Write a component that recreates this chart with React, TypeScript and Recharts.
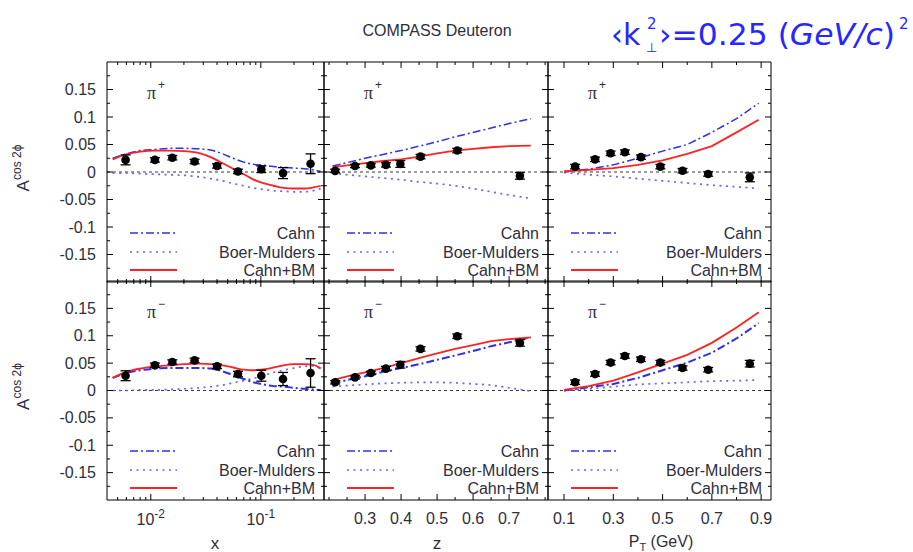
import React from 'react';
import { ComposedChart, Line, Scatter, ErrorBar, XAxis, YAxis, ReferenceLine } from 'recharts';

const W = 913;
const H = 552;
const FONT = '"Liberation Sans", Arial, Helvetica, sans-serif';
const TXT = '#2e2e3c';
const CAHN = '#2f2ff0';
const BM = '#6262ff';
const SUM = '#ff2222';

// plot frames in page pixels
const COLS = [
  { l: 107, r: 324 },
  { l: 324, r: 548 },
  { l: 548, r: 771 },
];
const ROWS = [
  { t: 62, b: 282 },
  { t: 281, b: 500 },
];

// ---- model curves ----
const xGrid = [0.0045, 0.006, 0.008, 0.011, 0.015, 0.02, 0.028, 0.035, 0.045, 0.056, 0.07, 0.085, 0.1, 0.13, 0.16, 0.2, 0.25, 0.3, 0.35];
const cahnPlusX = [0.025, 0.033, 0.039, 0.041, 0.043, 0.043, 0.042, 0.04, 0.033, 0.025, 0.018, 0.014, 0.013, 0.01, 0.0085, 0.007, 0.006, 0.004, 0.001];
const bmPlusX = [-0.002, -0.002, -0.003, -0.004, -0.005, -0.006, -0.009, -0.012, -0.016, -0.021, -0.025, -0.029, -0.031, -0.034, -0.035, -0.036, -0.036, -0.034, -0.03];
const sumPlusX = [0.023, 0.032, 0.037, 0.039, 0.039, 0.038, 0.034, 0.027, 0.016, 0.006, -0.004, -0.0135, -0.019, -0.025, -0.029, -0.03, -0.03, -0.028, -0.025];
const cahnMinusX = [0.023, 0.032, 0.037, 0.04, 0.041, 0.041, 0.041, 0.04, 0.035, 0.028, 0.021, 0.015, 0.012, 0.008, 0.007, 0.005, 0.003, 0.002, 0.001];
const bmMinusX = [0, 0, 0.001, 0.001, 0.002, 0.003, 0.005, 0.007, 0.01, 0.014, 0.018, 0.022, 0.026, 0.033, 0.037, 0.041, 0.044, 0.045, 0.04];
const sumMinusX = [0.023, 0.034, 0.04, 0.044, 0.046, 0.048, 0.049, 0.048, 0.046, 0.042, 0.038, 0.037, 0.038, 0.042, 0.046, 0.048, 0.048, 0.047, 0.04];

const zGrid = [0.21, 0.25, 0.3, 0.35, 0.4, 0.45, 0.5, 0.55, 0.6, 0.65, 0.7, 0.76];
const cahnPlusZ = [0.011, 0.017, 0.025, 0.032, 0.039, 0.047, 0.055, 0.064, 0.072, 0.08, 0.088, 0.097];
const bmPlusZ = [-0.002, -0.005, -0.008, -0.011, -0.014, -0.018, -0.021, -0.025, -0.03, -0.036, -0.042, -0.048];
const sumPlusZ = [0.009, 0.012, 0.016, 0.02, 0.023, 0.028, 0.034, 0.039, 0.042, 0.045, 0.047, 0.048];
const cahnMinusZ = [0.013, 0.019, 0.026, 0.034, 0.041, 0.048, 0.056, 0.064, 0.072, 0.081, 0.088, 0.097];
const bmMinusZ = [0.007, 0.009, 0.011, 0.013, 0.014, 0.015, 0.015, 0.014, 0.012, 0.01, 0.005, -0.001];
const sumMinusZ = [0.019, 0.026, 0.033, 0.041, 0.05, 0.059, 0.068, 0.076, 0.083, 0.09, 0.094, 0.097];

const ptGrid = [0.1, 0.2, 0.3, 0.4, 0.5, 0.6, 0.7, 0.8, 0.89];
const cahnPlusPt = [0.001, 0.005, 0.013, 0.025, 0.038, 0.05, 0.072, 0.097, 0.125];
const bmPlusPt = [-0.001, -0.005, -0.008, -0.012, -0.016, -0.02, -0.024, -0.027, -0.03];
const sumPlusPt = [0.001, 0.004, 0.007, 0.013, 0.021, 0.033, 0.047, 0.072, 0.095];
const cahnMinusPt = [0, 0.006, 0.012, 0.023, 0.037, 0.051, 0.069, 0.095, 0.123];
const bmMinusPt = [0, 0.003, 0.007, 0.011, 0.013, 0.015, 0.017, 0.018, 0.019];
const sumMinusPt = [0.001, 0.008, 0.018, 0.033, 0.049, 0.065, 0.087, 0.115, 0.143];

// ---- COMPASS data points ----
const xBins = [0.0059, 0.0109, 0.0157, 0.025, 0.04, 0.062, 0.101, 0.159, 0.283];
const zBins = [0.217, 0.272, 0.316, 0.358, 0.398, 0.454, 0.556, 0.73];
const ptBins = [0.145, 0.226, 0.289, 0.347, 0.412, 0.491, 0.581, 0.685, 0.854];

const aPlusX = [0.022, 0.022, 0.026, 0.019, 0.011, 0.001, 0.005, -0.002, 0.015];
const ePlusX = [0.009, 0.004, 0.004, 0.004, 0.004, 0.004, 0.006, 0.01, 0.018];
const aPlusZ = [0.002, 0.011, 0.012, 0.013, 0.0145, 0.028, 0.039, -0.007];
const ePlusZ = [0.003, 0.003, 0.003, 0.004, 0.006, 0.004, 0.004, 0.006];
const aPlusPt = [0.0097, 0.023, 0.034, 0.036, 0.027, 0.0097, 0.0024, -0.0036, -0.0097];
const ePlusPt = [0.004, 0.004, 0.004, 0.004, 0.004, 0.004, 0.004, 0.004, 0.008];
const aMinusX = [0.027, 0.046, 0.052, 0.055, 0.044, 0.03, 0.027, 0.021, 0.032];
const eMinusX = [0.009, 0.004, 0.004, 0.004, 0.004, 0.005, 0.01, 0.012, 0.026];
const aMinusZ = [0.015, 0.024, 0.032, 0.04, 0.047, 0.076, 0.099, 0.087];
const eMinusZ = [0.003, 0.003, 0.003, 0.004, 0.006, 0.004, 0.004, 0.006];
const aMinusPt = [0.015, 0.03, 0.051, 0.063, 0.057, 0.051, 0.041, 0.038, 0.049];
const eMinusPt = [0.004, 0.004, 0.004, 0.004, 0.004, 0.004, 0.004, 0.004, 0.006];

// ---- ticks ----
const yTicks = [-0.175, -0.15, -0.125, -0.1, -0.075, -0.05, -0.025, 0, 0.025, 0.05, 0.075, 0.1, 0.125, 0.15, 0.175];
const yLabels: Record<string, string> = { '0.15': '0.15', '0.1': '0.1', '0.05': '0.05', '0': '0', '-0.05': '-0.05', '-0.1': '-0.1', '-0.15': '-0.15' };
const xTicks = [0.005, 0.006, 0.007, 0.008, 0.009, 0.01, 0.02, 0.03, 0.04, 0.05, 0.06, 0.07, 0.08, 0.09, 0.1, 0.2, 0.3];
const xLabels: Record<string, string> = { '0.01': '-2', '0.1': '-1' };
const zTicks = [0.2, 0.25, 0.3, 0.35, 0.4, 0.45, 0.5, 0.55, 0.6, 0.65, 0.7, 0.75, 0.8];
const zLabels: Record<string, string> = { '0.3': '0.3', '0.4': '0.4', '0.5': '0.5', '0.6': '0.6', '0.7': '0.7' };
const ptTicks = [0.1, 0.2, 0.3, 0.4, 0.5, 0.6, 0.7, 0.8, 0.9];
const ptLabels: Record<string, string> = { '0.1': '0.1', '0.3': '0.3', '0.5': '0.5', '0.7': '0.7', '0.9': '0.9' };

const AXES: Record<string, any> = {
  x: { scale: 'log', domain: [0.004, 0.375], ticks: xTicks, labels: xLabels, log: true },
  z: { scale: 'linear', domain: [0.186, 0.808], ticks: zTicks, labels: zLabels, log: false },
  pt: { scale: 'linear', domain: [0.035, 0.94], ticks: ptTicks, labels: ptLabels, log: false },
};

const curve = (xs: number[], ys: number[]) => xs.map((x, i) => ({ x, y: ys[i] }));
const pts = (xs: number[], ys: number[], es: number[]) => xs.map((x, i) => ({ x, y: ys[i], e: es[i] }));

const PANELS = [
  { row: 0, col: 0, kind: 'x', sign: '+', grid: xGrid, cahn: cahnPlusX, bm: bmPlusX, sum: sumPlusX, bins: xBins, vals: aPlusX, errs: ePlusX },
  { row: 0, col: 1, kind: 'z', sign: '+', grid: zGrid, cahn: cahnPlusZ, bm: bmPlusZ, sum: sumPlusZ, bins: zBins, vals: aPlusZ, errs: ePlusZ },
  { row: 0, col: 2, kind: 'pt', sign: '+', grid: ptGrid, cahn: cahnPlusPt, bm: bmPlusPt, sum: sumPlusPt, bins: ptBins, vals: aPlusPt, errs: ePlusPt },
  { row: 1, col: 0, kind: 'x', sign: '−', grid: xGrid, cahn: cahnMinusX, bm: bmMinusX, sum: sumMinusX, bins: xBins, vals: aMinusX, errs: eMinusX },
  { row: 1, col: 1, kind: 'z', sign: '−', grid: zGrid, cahn: cahnMinusZ, bm: bmMinusZ, sum: sumMinusZ, bins: zBins, vals: aMinusZ, errs: eMinusZ },
  { row: 1, col: 2, kind: 'pt', sign: '−', grid: ptGrid, cahn: cahnMinusPt, bm: bmMinusPt, sum: sumMinusPt, bins: ptBins, vals: aMinusPt, errs: eMinusPt },
];

const CAHN_DASH = '8 3 2 3';
const BM_DASH = '2 4.5';

function xTick(t: any, ax: any, side: 'top' | 'bottom', showLabel: boolean) {
  const v = t.payload.value;
  const lab = ax.labels[String(v)];
  const len = lab !== undefined ? 6 : 3;
  const dir = side === 'bottom' ? -1 : 1;
  return (
    <g>
      <line x1={t.x} x2={t.x} y1={t.y} y2={t.y + dir * len} stroke="#000" strokeWidth={1} />
      {showLabel && lab !== undefined && (ax.log ? (
        <text x={t.x} y={t.y + 25} textAnchor="middle" fontSize={16} fill={TXT} fontFamily={FONT}>
          10<tspan dy={-7} fontSize={12}>{lab}</tspan>
        </text>
      ) : (
        <text x={t.x} y={t.y + 24} textAnchor="middle" fontSize={16} fill={TXT} fontFamily={FONT}>{lab}</text>
      ))}
    </g>
  );
}

function yTick(t: any, side: 'left' | 'right', showLabel: boolean) {
  const v = t.payload.value;
  const lab = yLabels[String(v)];
  const len = lab !== undefined ? 6 : 3;
  const dir = side === 'left' ? 1 : -1;
  return (
    <g>
      <line x1={t.x} x2={t.x + dir * len} y1={t.y} y2={t.y} stroke="#000" strokeWidth={1} />
      {showLabel && lab !== undefined && (
        <text x={t.x - 11} y={t.y + 5.5} textAnchor="end" fontSize={16} fill={TXT} fontFamily={FONT}>{lab}</text>
      )}
    </g>
  );
}

function Panel({ p }: { p: any }) {
  const col = COLS[p.col];
  const row = ROWS[p.row];
  const ax = AXES[p.kind];
  const showX = p.row === 1;
  const showY = p.col === 0;
  const lineType = p.kind === 'x' ? 'monotone' : 'linear';
  return (
    <div style={{ position: 'absolute', left: 0, top: 0 }}>
      <ComposedChart width={W} height={H} margin={{ top: row.t - 1, left: col.l - 1, right: W - col.r - 1, bottom: H - row.b - 1 }}>
        <XAxis xAxisId="b" dataKey="x" type="number" scale={ax.scale} domain={ax.domain} allowDataOverflow ticks={ax.ticks} interval={0}
          height={1} tickSize={0} tickMargin={0} tickLine={false} axisLine={{ stroke: '#000' }} tick={(t: any) => xTick(t, ax, 'bottom', showX)} />
        <XAxis xAxisId="t" orientation="top" dataKey="x" type="number" scale={ax.scale} domain={ax.domain} allowDataOverflow ticks={ax.ticks} interval={0}
          height={1} tickSize={0} tickMargin={0} tickLine={false} axisLine={{ stroke: '#000' }} tick={(t: any) => xTick(t, ax, 'top', false)} />
        <YAxis yAxisId="l" type="number" domain={[-0.2, 0.2]} allowDataOverflow ticks={yTicks} interval={0}
          width={1} tickSize={0} tickMargin={0} tickLine={false} axisLine={{ stroke: '#000' }} tick={(t: any) => yTick(t, 'left', showY)} />
        <YAxis yAxisId="r" orientation="right" type="number" domain={[-0.2, 0.2]} allowDataOverflow ticks={yTicks} interval={0}
          width={1} tickSize={0} tickMargin={0} tickLine={false} axisLine={{ stroke: '#000' }} tick={(t: any) => yTick(t, 'right', false)} />
        <ReferenceLine xAxisId="b" yAxisId="l" y={0} stroke="#222" strokeDasharray="3 3" strokeWidth={0.9} />
        <Line xAxisId="b" yAxisId="l" data={curve(p.grid, p.bm)} dataKey="y" type={lineType} stroke={BM} strokeWidth={1.7}
          strokeDasharray={BM_DASH} dot={false} isAnimationActive={false} />
        <Line xAxisId="b" yAxisId="l" data={curve(p.grid, p.cahn)} dataKey="y" type={lineType} stroke={CAHN} strokeWidth={p.row === 1 ? 2 : 1.5}
          strokeDasharray={CAHN_DASH} dot={false} isAnimationActive={false} />
        <Line xAxisId="b" yAxisId="l" data={curve(p.grid, p.sum)} dataKey="y" type={lineType} stroke={SUM} strokeWidth={1.8}
          dot={false} isAnimationActive={false} />
        <Scatter xAxisId="b" yAxisId="l" data={pts(p.bins, p.vals, p.errs)} dataKey="y" fill="#000" isAnimationActive={false}
          shape={(s: any) => <circle cx={s.cx} cy={s.cy} r={4.3} fill="#000" />}>
          <ErrorBar dataKey="e" direction="y" width={5} stroke="#000" strokeWidth={1.3} />
        </Scatter>
      </ComposedChart>
    </div>
  );
}

function Annotations() {
  const legendRows = [
    { name: 'Cahn', color: CAHN, dash: CAHN_DASH, off: -49 },
    { name: 'Boer-Mulders', color: BM, dash: BM_DASH, off: -30 },
    { name: 'Cahn+BM', color: SUM, dash: undefined, off: -12 },
  ];
  return (
    <svg width={W} height={H} style={{ position: 'absolute', left: 0, top: 0, pointerEvents: 'none' }}>
      <text x={437} y={36} textAnchor="middle" fontSize={16} fill={TXT} fontFamily={FONT}>COMPASS Deuteron</text>
      <g fill="#2626ff" fontFamily='"DejaVu Sans", sans-serif'>
        <text x={611} y={45} fontSize={30}>‹k</text>
        <text x={647} y={29} fontSize={15}>2</text>
        <text x={646} y={52} fontSize={13}>⊥</text>
        <text x={659} y={45} fontSize={30} textLength={236} lengthAdjust="spacingAndGlyphs">›=0.25 (<tspan fontStyle="italic">GeV/c</tspan>)</text>
        <text x={899} y={29} fontSize={15}>2</text>
      </g>
      {PANELS.map((p, i) => {
        const col = COLS[p.col];
        const row = ROWS[p.row];
        return (
          <g key={i}>
            <text x={col.l + 40} y={row.t + 37} fontSize={18} fill={TXT} fontFamily='"Liberation Serif", "DejaVu Serif", serif'>π</text>
            <text x={col.l + 51} y={row.t + 27} fontSize={12} fill={TXT} fontFamily={FONT}>{p.sign}</text>
            {legendRows.map((r) => (
              <g key={r.name}>
                <line x1={col.l + 23} x2={col.l + 70} y1={row.b + r.off} y2={row.b + r.off} stroke={r.color}
                  strokeWidth={r.name === 'Cahn+BM' ? 1.8 : 1.7} strokeDasharray={r.dash} />
                <text x={col.r - 9} y={row.b + r.off + 5.5} textAnchor="end" fontSize={16} fill={TXT} fontFamily={FONT}>{r.name}</text>
              </g>
            ))}
          </g>
        );
      })}
      {ROWS.map((row, i) => {
        const cy = (row.t + row.b) / 2 - 4;
        return (
          <text key={i} x={29} y={cy} transform={`rotate(-90 29 ${cy})`} textAnchor="middle" fontSize={17} fill={TXT} fontFamily={FONT}>
            A<tspan dy={-8} fontSize={12}>cos 2ϕ</tspan>
          </text>
        );
      })}
      <text x={215} y={549} textAnchor="middle" fontSize={17} fill={TXT} fontFamily={FONT}>x</text>
      <text x={437} y={549} textAnchor="middle" fontSize={17} fill={TXT} fontFamily={FONT}>z</text>
      <text x={661} y={547} textAnchor="middle" fontSize={16} fill={TXT} fontFamily={FONT}>
        P<tspan dy={4} fontSize={11}>T</tspan><tspan dy={-4}> (GeV)</tspan>
      </text>
    </svg>
  );
}

export default function App() {
  return (
    <div style={{ position: 'absolute', left: 0, top: 0, width: W, height: H, background: '#fff', overflow: 'hidden' }}>
      {PANELS.map((p, i) => (
        <Panel key={i} p={p} />
      ))}
      <Annotations />
    </div>
  );
}
